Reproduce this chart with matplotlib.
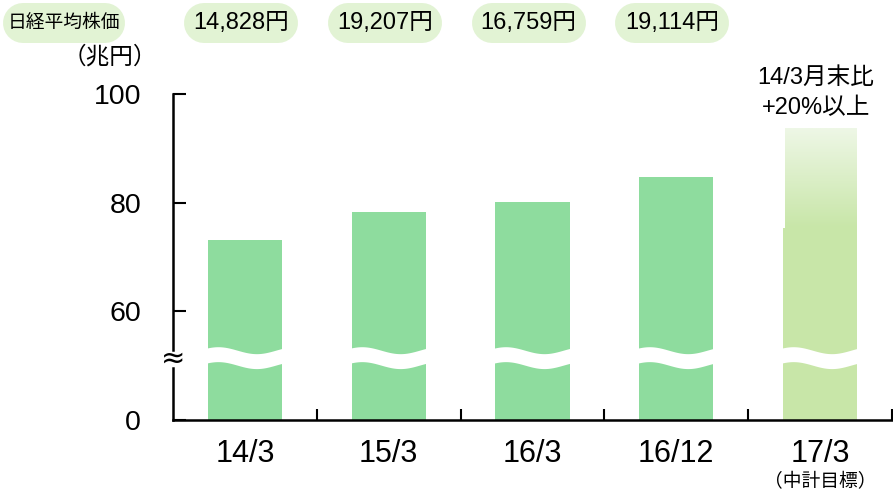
import numpy as np
import matplotlib.pyplot as plt
from matplotlib.colors import to_rgb
from matplotlib.lines import Line2D
from matplotlib.transforms import IdentityTransform, blended_transform_factory

plt.rcParams['font.family'] = ['Liberation Sans', 'Noto Sans CJK JP', 'DejaVu Sans']

# data (兆円) - the y axis is broken between 0 and ~50, axis value 40 stands for 0
categories = ['14/3', '15/3', '16/3', '16/12', '17/3']
market_cap = [73.2, 78.3, 80.2, 84.8]
target_solid = 75.4     # target bar: solid up to here, then fades
target_top = 93.8
nikkei_labels = ['14,828円', '19,207円', '16,759円', '19,114円']
yticks = [40, 60, 80, 100]
yticklabels = ['0', '60', '80', '100']

bar_color = '#8edc9e'
target_color = '#c8e6a8'
fade_color = '#eef7e6'
pill_color = '#e2f3d4'
base = 40
bw = 0.515

W, H = 893, 492
fig = plt.figure(figsize=(W / 100, H / 100), dpi=100)
ax = fig.add_axes([173 / W, 1 - 420 / H, 719 / W, 326 / H])

x = np.arange(len(categories))
ax.bar(x[:4], np.array(market_cap) - base, bottom=base, width=bw, color=bar_color, zorder=2)
ax.bar(x[4], target_solid - base, bottom=base, width=bw, color=target_color, zorder=2)

# gradient part of the target bar
grad = np.linspace(0, 1, 100)[:, None]
c0, c1 = np.array(to_rgb(target_color)), np.array(to_rgb(fade_color))
img = c0[None, None, :] * (1 - grad[..., None]) + c1[None, None, :] * grad[..., None]
ax.imshow(img, extent=[x[4] - bw / 2 + 0.01, x[4] + bw / 2 - 0.005, target_solid, target_top],
          origin='lower', aspect='auto', zorder=2)

# wavy white break through every bar
t = np.linspace(0, 1, 80)
for xi in x:
    xs = xi - bw / 2 - 0.01 + t * (bw + 0.02)
    top = 52.85 - 0.64 * np.cos(2 * np.pi * (t - 0.65))
    ax.fill_between(xs, top - 2.75, top, color='white', lw=0, zorder=3)

ax.set_xlim(-0.5, 4.5)
ax.set_ylim(base, 100)

for s in ['top', 'right', 'left']:
    ax.spines[s].set_visible(False)
ax.spines['bottom'].set_linewidth(1.8)

# broken left spine
ax.plot([-0.5, -0.5], [base, 49.6], color='black', lw=1.8, clip_on=False, zorder=5)
ax.plot([-0.5, -0.5], [52.8, 100], color='black', lw=1.8, clip_on=False, zorder=5)
ax.text(-0.5, 51.2, '≈', ha='center', va='center', fontsize=21, zorder=6,
        family=['DejaVu Sans'])

ax.set_yticks(yticks)
ax.set_yticklabels(yticklabels, fontsize=20.5)
ax.tick_params(axis='y', direction='in', length=9, width=1.5, pad=23, left=True)
ax.set_xticks(x)
ax.set_xticklabels(categories, fontsize=22)
ax.set_xticks(np.arange(0.5, 5, 1), minor=True)
ax.tick_params(axis='x', which='major', length=0, pad=14)
ax.tick_params(axis='x', which='minor', direction='in', length=8, width=1.5)

bt = blended_transform_factory(ax.transData, fig.transFigure)
fig.text(110 / W, 1 - 57 / H, '（兆円）', ha='center', va='center', fontsize=17)
ax.text(x[4], 1 - 482 / H, '（中計目標）', ha='center', va='center', fontsize=13.5,
        transform=bt, clip_on=False)
ax.text(x[4] - 0.03, 1 - 93 / H, '14/3月末比\n+20%以上', ha='center', va='center',
        fontsize=17, linespacing=1.45, transform=bt, clip_on=False)

# Nikkei average pills on top: thick line with round caps
def pill(cx, w, label, fs):
    r = 20
    fig.lines.append(Line2D([cx - w / 2 + r, cx + w / 2 - r], [H - 23, H - 23],
                            lw=2 * r * 72 / 100, color=pill_color, solid_capstyle='round',
                            transform=IdentityTransform()))
    fig.text(cx / W, 1 - 23 / H, label, ha='center', va='center', fontsize=fs)

pill(64, 122, '日経平均株価', 13.5)
for xi, lab in zip(x[:4], nikkei_labels):
    cx = ax.transData.transform((xi, 0))[0] - 4
    pill(cx, 114, lab, 17)

fig.savefig('out.png', dpi=100)
